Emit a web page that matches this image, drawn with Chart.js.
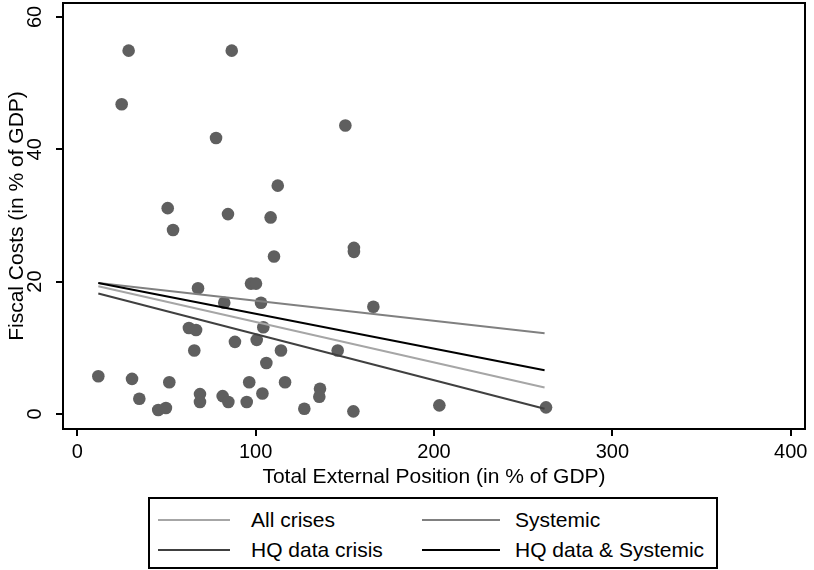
<!DOCTYPE html>
<html>
<head>
<meta charset="utf-8">
<script src="https://cdn.jsdelivr.net/npm/chart.js@4.4.1/dist/chart.umd.min.js"></script>
<style>
  body { margin: 0; background: #fff; font-family: "Liberation Sans", Arial, sans-serif; }
  #wrap { position: relative; width: 814px; height: 570px; }
  #legend {
    position: absolute; left: 148px; top: 497px; width: 566px; height: 68px;
    border: 2px solid #000; box-sizing: content-box;
  }
  .item { position: absolute; left: 0; font-size: 21px; color: #000; line-height: 24px; }
  .item span.ln { position: absolute; top: 11px; height: 2px; }
  .item span.tx { position: absolute; white-space: nowrap; }
</style>
</head>
<body>
<div id="wrap">
  <canvas id="myChart" width="814" height="490"></canvas>
  <div id="legend"></div>
</div>
<script>
// scatter: total external position vs fiscal costs
const extPos = [11.8, 28.8, 86.6, 24.9, 77.8, 150.3, 112.4, 50.7, 84.5, 108.4,
  53.7, 155.1, 155.1, 110.3, 97.4, 100.2, 67.7, 166.0, 82.4, 103.0,
  62.6, 66.6, 104.3, 88.4, 100.6, 65.6, 114.2, 146.0, 106.0, 30.7,
  51.6, 34.8, 45.4, 49.7, 68.8, 68.8, 81.5, 84.7, 95.0, 96.4,
  103.8, 116.5, 127.3, 136.1, 135.7, 154.8, 203.0, 262.8];
const fiscalCost = [5.7, 54.9, 54.9, 46.8, 41.7, 43.6, 34.5, 31.1, 30.2, 29.7,
  27.8, 25.1, 24.5, 23.8, 19.7, 19.7, 19.0, 16.2, 16.8, 16.8,
  13.0, 12.7, 13.1, 10.9, 11.2, 9.6, 9.6, 9.6, 7.7, 5.3,
  4.8, 2.3, 0.6, 0.9, 3.0, 1.8, 2.7, 1.8, 1.8, 4.8,
  3.1, 4.8, 0.8, 3.8, 2.6, 0.4, 1.3, 1.0];

// fitted lines (endpoints)
const fitX = [11.8, 262];
const allCrises = [19.3, 4.0];
const systemic = [19.8, 12.2];
const hqCrisis = [18.2, 0.8];
const hqSystemic = [19.8, 6.6];

const xTicks = [0, 100, 200, 300, 400];
const yTicks = [0, 20, 40, 60];

const seriesNames = ['All crises', 'Systemic', 'HQ data crisis', 'HQ data & Systemic'];
const seriesColors = ['#a6a6a6', '#808080', '#404040', '#000000'];
const seriesData = [allCrises, systemic, hqCrisis, hqSystemic];

function pairs(xs, ys) {
  return xs.map((x, i) => ({x: x, y: ys[i]}));
}

const lineSets = seriesNames.map((name, i) => ({
  type: 'line',
  label: name,
  data: pairs(fitX, seriesData[i]),
  borderColor: seriesColors[i],
  borderWidth: 2,
  pointRadius: 0,
  fill: false,
  order: 3 - i
}));

const frame = {
  id: 'frame',
  afterDraw(chart) {
    const a = chart.chartArea, c = chart.ctx;
    c.save();
    c.strokeStyle = '#000';
    c.lineWidth = 2;
    c.strokeRect(a.left, a.top, a.right - a.left, a.bottom - a.top);
    c.restore();
  }
};

const tickFont = {family: '"Liberation Sans", Arial, sans-serif', size: 20};
const titleFont = {family: '"Liberation Sans", Arial, sans-serif', size: 21};

const config = {
  type: 'scatter',
  data: {
    datasets: [{
      label: 'points',
      data: pairs(extPos, fiscalCost),
      backgroundColor: '#5f5f5f',
      borderWidth: 0,
      pointRadius: 6.3,
      order: 10
    }].concat(lineSets)
  },
  options: {
    responsive: false,
    animation: false,
    layout: {autoPadding: false, padding: {top: 3, right: 9, left: 0, bottom: 0}},
    plugins: {legend: {display: false}, tooltip: {enabled: false}},
    scales: {
      x: {
        type: 'linear', min: -8, max: 408,
        afterBuildTicks: s => { s.ticks = xTicks.map(v => ({value: v})); },
        afterFit: s => { s.height = 61; s.paddingLeft = 0; s.paddingRight = 0; },
        border: {display: false},
        grid: {drawOnChartArea: false, drawTicks: true, tickLength: 7, color: '#000', lineWidth: 2},
        ticks: {color: '#000', font: tickFont, padding: 4, maxRotation: 0, autoSkip: false},
        title: {display: true, text: 'Total External Position (in % of GDP)', color: '#000', font: titleFont, padding: {top: 0, bottom: 0}}
      },
      y: {
        type: 'linear', min: -2.27, max: 62.1,
        afterBuildTicks: s => { s.ticks = yTicks.map(v => ({value: v})); },
        afterFit: s => { s.width = 63; s.paddingTop = 0; s.paddingBottom = 0; },
        border: {display: false},
        grid: {drawOnChartArea: false, drawTicks: true, tickLength: 7, color: '#000', lineWidth: 2},
        ticks: {color: '#000', font: tickFont, padding: 9, minRotation: 90, maxRotation: 90, crossAlign: 'center', autoSkip: false},
        title: {display: true, text: 'Fiscal Costs (in % of GDP)', color: '#000', font: titleFont, padding: {top: 5, bottom: 0}}
      }
    }
  },
  plugins: [frame]
};

new Chart(document.getElementById('myChart'), config);

// legend, two columns like the original (positions inside the box)
const legend = document.getElementById('legend');
const rowTop = [9, 39];
const colLine = [[8, 72], [272, 78]];
const colText = [101, 365];
seriesNames.forEach((name, i) => {
  const col = i % 2, row = Math.floor(i / 2);
  const d = document.createElement('div');
  d.className = 'item';
  d.style.top = rowTop[row] + 'px';
  d.innerHTML = '<span class="ln" style="left:' + colLine[col][0] + 'px;width:' + colLine[col][1] +
    'px;background:' + seriesColors[i] + '"></span>' +
    '<span class="tx" style="left:' + colText[col] + 'px">' + name.replace('&', '&amp;') + '</span>';
  legend.appendChild(d);
});
</script>
</body>
</html>
